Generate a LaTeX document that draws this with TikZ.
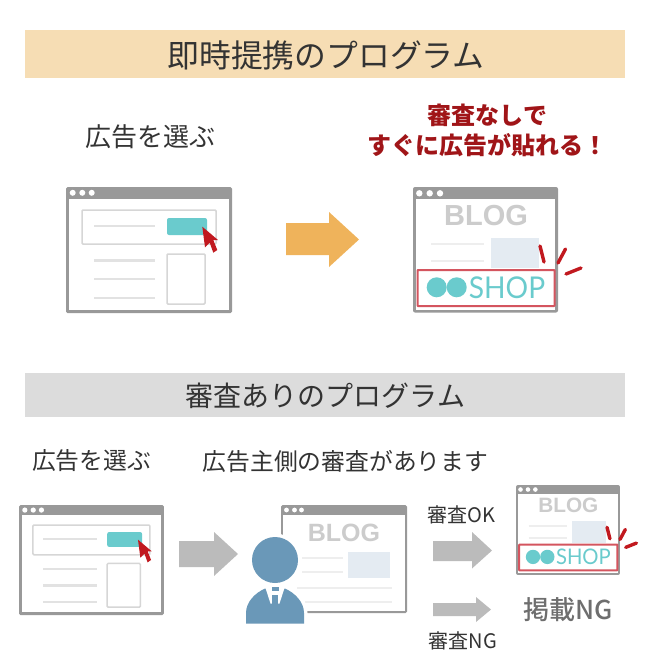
\documentclass[tikz,border=0pt]{standalone}
\usepackage{fontspec}
\setmainfont{Noto Sans CJK JP}
\newfontfamily\blogfont{Liberation Sans}
\newfontfamily\shopfont{Lato}
\newfontfamily\midfont{Noto Sans CJK JP Medium}
\usetikzlibrary{positioning}

\definecolor{bandorange}{HTML}{F6DDB4}
\definecolor{bandgray}{HTML}{DCDCDC}
\definecolor{textgray}{HTML}{333333}
\definecolor{framegray}{HTML}{999999}
\definecolor{linegray}{HTML}{E2E2E2}
\definecolor{boxgray}{HTML}{D6D6D6}
\definecolor{palegray}{HTML}{EEEEEE}
\definecolor{tealbtn}{HTML}{6ACBCD}
\definecolor{cursorred}{HTML}{C1191F}
\definecolor{shopred}{HTML}{D4555F}
\definecolor{titlered}{HTML}{A01518}
\definecolor{imgblue}{HTML}{E4EBF2}
\definecolor{personblue}{HTML}{6A98B8}
\definecolor{arroworange}{HTML}{EFB35B}
\definecolor{arrowgray}{HTML}{BBBBBB}

\tikzset{
    band/.style = {minimum width=600pt, inner sep=0pt},
    label/.style = {inner sep=0pt, text=textgray},
    adline/.style = {draw=linegray, line width=2.4pt},
    adbox/.style = {draw=boxgray, line width=1.5pt, rounded corners=1pt},
    blogline/.style = {draw=palegray, line width=2.4pt},
    % browser window with a button under the cursor
    adwin/.pic = {
        \fill[framegray, rounded corners=1.5pt] (0,0) rectangle (166,126);
        \fill[white] (3,12) rectangle (163,123);
        \foreach \dotx in {6.7,16.3,25.7} \fill[white] (\dotx,5.8) circle (3);
        \draw[adbox] (16,23) rectangle (150,57);
        \fill[tealbtn, rounded corners=2pt] (101,31) rectangle (141,48);
        \foreach \liney in {39,73.5,92,111} \draw[adline] (28,\liney) -- (89,\liney);
        \draw[adbox] (101,67) rectangle (139,117);
        \fill[cursorred] (136.3,39.7) -- (139,60.3) -- (143.7,55.7) -- (147.3,65.7)
            -- (151.3,63) -- (147.3,53) -- (152,53) -- cycle;
    },
    % browser window with the shop banner
    shopwin/.pic = {
        \fill[framegray, rounded corners=2pt] (0,0) rectangle (145,125.5);
        \fill[white] (3,12) rectangle (142,122.5);
        \foreach \dotx in {6.3,16.7,27} \fill[white] (\dotx,6.3) circle (3.2);
        \node[inner sep=0pt, text=black!20, transform shape] (-blog) at (73,28.5) {\blogfont\bfseries\fontsize{29}{29}\selectfont BLOG};
        \draw[blogline] (18,57) -- (71,57);
        \draw[blogline] (18,74) -- (71,74);
        \fill[imgblue] (78,50.7) rectangle (126,81);
        \filldraw[fill=white, draw=shopred, line width=2pt, rounded corners=.5pt] (4.5,83) rectangle (141.5,119);
        \fill[tealbtn] (23.7,100.3) circle (10);
        \fill[tealbtn] (43.7,100.3) circle (10);
        \node[inner sep=0pt, text=tealbtn, xscale=.94, transform shape] (-shop) at (94,100.5) {\shopfont\fontsize{30}{30}\selectfont SHOP};
        \draw[cursorred, line width=3.4pt, line cap=round] (127,59) -- (131,75);
        \draw[cursorred, line width=3.4pt, line cap=round] (152.5,62) -- (145,76);
        \draw[cursorred, line width=3.4pt, line cap=round] (168,81) -- (153,87);
    }
}

\newcommand{\bodypath}{(246,623.5) -- (246,613) .. controls (246,602) and (255,593) .. (265,588.5)
    -- (285,588.5) .. controls (295,593) and (304,602) .. (304,613) -- (304,623.5) -- cycle}

\begin{document}
\begin{tikzpicture}[x=1pt, y=-1pt]
    \useasboundingbox (0,0) rectangle (650,670);

    %% upper half
    \node[band, fill=bandorange, minimum height=48pt] (top band) at (325,54) {};
    \node[label] (top title) at (326,55.5) {\fontsize{31.8}{32}\selectfont 即時提携のプログラム};
    \node[label] (top choose) at (150,137) {\fontsize{26}{26}\selectfont 広告を選ぶ};
    \node[label, text=titlered, align=center, font=\bfseries\fontsize{24}{30.5}\selectfont] (top result) at (487.5,130.5)
        {審査なしで\\すぐに広告が貼れる！};

    \pic (top ad) at (66,187) {adwin};
    \fill[arroworange] (286,223) -- (329,223) -- (329,212) -- (359,239.5) -- (329,267) -- (329,255) -- (286,255) -- cycle;
    \pic (top shop) at (413,187) {shopwin};

    %% lower half
    \node[band, fill=bandgray, minimum height=44pt] (low band) at (325,395) {};
    \node[label] (low title) at (325.5,395.5) {\fontsize{28}{28}\selectfont 審査ありのプログラム};
    \node[label] (low choose) at (91.5,461) {\fontsize{23.8}{24}\selectfont 広告を選ぶ};
    \node[label] (low check) at (345.5,461) {\fontsize{23.8}{24}\selectfont 広告主側の審査があります};

    \pic[scale=.873] (low ad) at (19,505) {adwin};
    \fill[arrowgray] (179,541) -- (214,541) -- (214,532) -- (238,554) -- (214,576) -- (214,567) -- (179,567) -- cycle;

    % window behind the person
    \fill[framegray, rounded corners=1.5pt] (281,505) rectangle (407,613);
    \fill[white] (283,515) rectangle (405,611);
    \foreach \dotx in {286.5,294.5,301.5} \fill[white] (\dotx,510) circle (2.4);
    \node[inner sep=0pt, text=black!20] (mid blog) at (344,533) {\blogfont\bfseries\fontsize{25}{25}\selectfont BLOG};
    \draw[blogline] (302,558) -- (343,558);
    \draw[blogline] (302,572) -- (343,572);
    \fill[imgblue] (348,552) rectangle (390,578);
    \draw[blogline] (297,588) -- (392,588);
    \draw[blogline] (305,602) -- (392,602);

    % person
    \draw[white, line width=7pt] (275,560) circle (23);
    \fill[personblue] (275,560) circle (23);
    \draw[white, line width=7pt] \bodypath;
    \fill[personblue] \bodypath;
    \fill[white] (265.5,588) -- (270.5,603.5) -- (279.5,603.5) -- (284.5,588) -- cycle;
    \fill[personblue] (271.5,587) rectangle (278.5,591);
    \fill[personblue] (272,595) rectangle (278,604);

    \node[label] (ok label) at (461.5,515) {\fontsize{20}{20}\selectfont 審査OK};
    \fill[arrowgray] (433,541) -- (472,541) -- (472,532) -- (492,550.5) -- (472,568.5) -- (472,561) -- (433,561) -- cycle;
    \pic[scale=.717] (low shop) at (516,485) {shopwin};

    \fill[arrowgray] (433,603) -- (476,603) -- (476,597) -- (491,609.5) -- (476,622) -- (476,616) -- (433,616) -- cycle;
    \node[label, text=black!57] (ng result) at (568.5,610) {\midfont\fontsize{26}{26}\selectfont 掲載NG};
    \node[label] (ng label) at (463,641) {\fontsize{20}{20}\selectfont 審査NG};
\end{tikzpicture}
\end{document}
